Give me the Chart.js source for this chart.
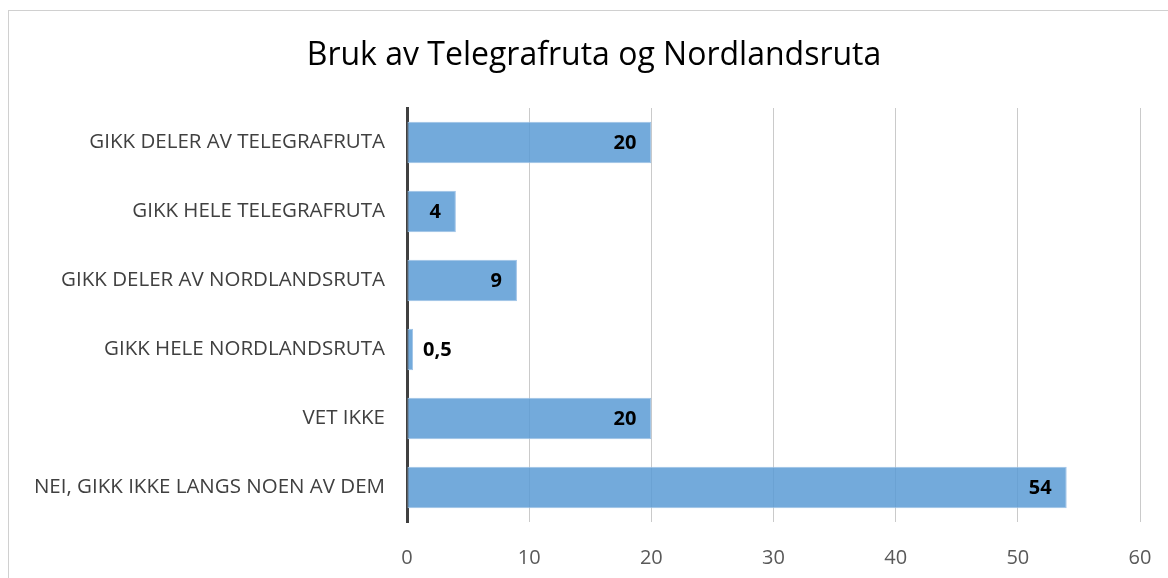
<!DOCTYPE html>
<html>
<head>
<meta charset="utf-8">
<script src="https://cdn.jsdelivr.net/npm/chart.js@4"></script>
<style>
    html, body { margin: 0; padding: 0; background: #fff; }
    #wrap { position: relative; width: 1168px; height: 578px; overflow: hidden; }
    #frame { position: absolute; left: 8px; top: 10px; width: 1200px; height: 600px; border: 1px solid #d0d0d0; }
    canvas { position: absolute; left: 0; top: 0; }
</style>
</head>
<body>
<div id="wrap">
    <div id="frame"></div>
    <canvas id="chart" width="1168" height="578"></canvas>
</div>
<script>
const categories = [
    'GIKK DELER AV TELEGRAFRUTA',
    'GIKK HELE TELEGRAFRUTA',
    'GIKK DELER AV NORDLANDSRUTA',
    'GIKK HELE NORDLANDSRUTA',
    'VET IKKE',
    'NEI, GIKK IKKE LANGS NOEN AV DEM'
];
const values = [20, 4, 9, 0.5, 20, 54];
const xTicks = [0, 10, 20, 30, 40, 50, 60];
const titleText = 'Bruk av Telegrafruta og Nordlandsruta';

const fontFamily = "'Open Sans', 'Noto Sans', sans-serif";

// tittel midtstilt over hele rammen
const chartTitle = {
    id: 'chartTitle',
    afterDraw(chart) {
        const ctx = chart.ctx;
        ctx.save();
        ctx.font = '32px ' + fontFamily;
        ctx.fillStyle = '#000';
        ctx.textAlign = 'center';
        ctx.textBaseline = 'middle';
        ctx.fillText(titleText, 594, 56);
        ctx.restore();
    }
};

// tall verdi-etiketter på søylene
const valueLabels = {
    id: 'valueLabels',
    afterDatasetsDraw(chart) {
        const ctx = chart.ctx;
        const meta = chart.getDatasetMeta(0);
        ctx.save();
        ctx.font = 'bold 20px ' + fontFamily;
        ctx.fillStyle = '#000';
        ctx.textBaseline = 'middle';
        meta.data.forEach((bar, i) => {
            const text = String(values[i]).replace('.', ',');
            const w = ctx.measureText(text).width;
            const barWidth = bar.x - bar.base;
            if (barWidth > w + 20) {
                ctx.textAlign = 'right';
                ctx.fillText(text, bar.x - 15, bar.y + 1);
            } else {
                ctx.textAlign = 'left';
                ctx.fillText(text, bar.x + 10, bar.y + 1);
            }
        });
        ctx.restore();
    }
};

const ctx = document.getElementById('chart').getContext('2d');
new Chart(ctx, {
    type: 'bar',
    data: {
        labels: categories,
        datasets: [{
            data: values,
            backgroundColor: 'rgba(91, 155, 213, 0.85)',
            borderColor: 'rgba(160, 196, 232, 1)',
            borderWidth: 1,
            borderSkipped: false,
            categoryPercentage: 1,
            barPercentage: 0.6
        }]
    },
    options: {
        indexAxis: 'y',
        responsive: false,
        animation: false,
        layout: { padding: { top: 108, left: 0, right: 0, bottom: 0 } },
        plugins: {
            legend: { display: false },
            tooltip: { enabled: false },
            title: { display: false }
        },
        scales: {
            x: {
                min: 0,
                max: 60,
                afterBuildTicks: (scale) => { scale.ticks = xTicks.map(v => ({ value: v })); },
                afterFit: (scale) => {
                    scale.height = 56;
                    scale.paddingLeft = 0;
                    scale.paddingRight = 28;
                },
                grid: { color: '#cacaca', lineWidth: 1, drawTicks: false },
                border: { display: false },
                ticks: {
                    color: '#595959',
                    padding: 24,
                    font: { family: fontFamily, size: 20 }
                }
            },
            y: {
                afterFit: (scale) => { scale.width = 407; },
                grid: { display: false },
                border: { display: true, color: '#404040', width: 3 },
                ticks: {
                    color: '#404040',
                    padding: 14,
                    font: { family: fontFamily, size: 20.5 }
                }
            }
        }
    },
    plugins: [valueLabels, chartTitle]
});
</script>
</body>
</html>
